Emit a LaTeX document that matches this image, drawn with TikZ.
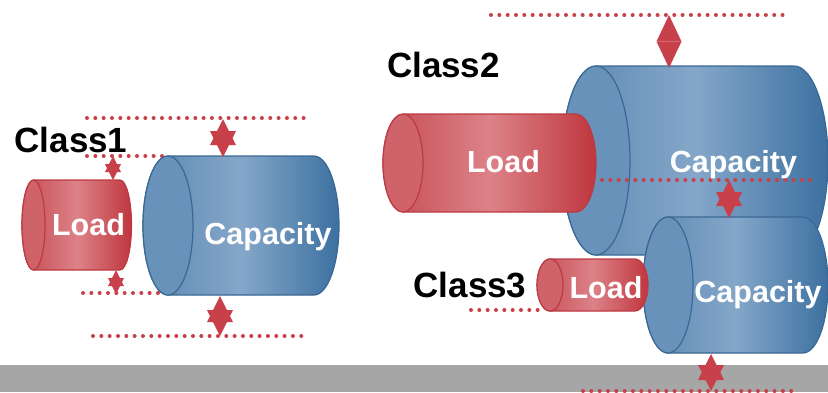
\documentclass[tikz,border=0pt]{standalone}
\usepackage{fontspec}
\setmainfont{Liberation Sans}
\definecolor{loadFace}{RGB}{208,98,106}
\definecolor{loadEdge}{RGB}{188,58,66}
\definecolor{loadLeft}{RGB}{198,74,82}
\definecolor{loadMid}{RGB}{220,130,136}
\definecolor{loadRight}{RGB}{192,54,62}
\definecolor{capFace}{RGB}{104,146,185}
\definecolor{capEdge}{RGB}{58,104,148}
\definecolor{capLeft}{RGB}{92,135,177}
\definecolor{capMid}{RGB}{132,167,201}
\definecolor{capRight}{RGB}{60,112,160}
\definecolor{markred}{RGB}{200,65,74}
\definecolor{floorgrey}{RGB}{166,166,166}

% #1 kind (load/cap), #2 x of front face, #3 x of back end, #4 axis y, #5 x radius, #6 y radius
\newcommand{\drawcyl}[6]{%
  \shadedraw[#1 body] (#2,#4-#6) -- (#3,#4-#6)
    arc[start angle=-90,end angle=90,x radius=#5,y radius=#6]
    -- (#2,#4+#6)
    arc[start angle=90,end angle=270,x radius=#5,y radius=#6] -- cycle;
  \filldraw[#1 face] (#2,#4) ellipse[x radius=#5,y radius=#6];
}

% two triangles between an upper and a lower point: #3 half width, #4 triangle height
\newcommand{\gapmark}[4]{%
  \fill[markred] (#1) -- ++(#3,#4) -- ++(-2*#3,0) -- cycle;
  \fill[markred] (#2) -- ++(#3,-#4) -- ++(-2*#3,0) -- cycle;
}

\begin{document}
\begin{tikzpicture}[x=1pt, y=-1pt,
    load body/.style={left color=loadLeft, right color=loadRight, middle color=loadMid,
                      draw=loadEdge, line width=1.2pt},
    load face/.style={fill=loadFace, draw=loadEdge, line width=1.2pt},
    cap body/.style={left color=capLeft, right color=capRight, middle color=capMid,
                     draw=capEdge, line width=1.2pt},
    cap face/.style={fill=capFace, draw=capEdge, line width=1.2pt},
    classlbl/.style={font=\bfseries\fontsize{35}{35}\selectfont, inner sep=0pt, anchor=base},
    cyltxt/.style={text=white, font=\bfseries\fontsize{30.5}{30.5}\selectfont,
                   inner sep=0pt, anchor=base},
    guide/.style={draw=markred, line width=4pt, line cap=round,
                  dash pattern=on 0pt off 8.33pt}
  ]
    \clip (0,0) rectangle (828,392);
    \fill[floorgrey] (0,365) rectangle (828,392);

    % dotted guide lines
    \foreach \xa/\xb/\y in {87/305/118, 87/163/156, 83/160/293, 93/303/336,
                            491/783/15, 471/538/310, 583/793/391} {
      \draw[guide] (\xa,\y) -- (\xb,\y);
    }

    % class 1
    \drawcyl{load}{33.5}{120}{225}{11.5}{45}
    \drawcyl{cap}{168}{314}{225.5}{25}{69.5}
    \node[classlbl] (class1) at (71,152) {Class1};
    \node[cyltxt] (load1) at (88.5,235) {Load};
    \node[cyltxt] (cap1) at (268,244) {Capacity};

    % class 2
    \drawcyl{cap}{596}{794}{160.5}{34}{94.5}
    \drawcyl{load}{403}{576}{163}{20}{49}
    \draw[guide] (602,180) -- (813,180);
    \node[classlbl] (class2) at (443.5,77) {Class2};
    \node[cyltxt] (load2) at (503.5,172.5) {Load};
    \node[cyltxt] (cap2) at (733.5,172) {Capacity};

    % class 3
    \drawcyl{cap}{668}{803}{285}{25}{68}
    \drawcyl{load}{550}{635}{285}{13}{26}
    \node[classlbl] (class3) at (470,297.5) {Class3};
    \node[cyltxt] (load3) at (606,298.5) {Load};
    \node[cyltxt] (cap3) at (758,302) {Capacity};

    % gap markers
    \coordinate (m1a) at (223,119);  \coordinate (m1b) at (223,157);
    \coordinate (m2a) at (113,156);  \coordinate (m2b) at (113,180);
    \coordinate (m3a) at (116,270);  \coordinate (m3b) at (116,294);
    \coordinate (m4a) at (220,296);  \coordinate (m4b) at (220,336);
    \coordinate (m5a) at (669,15);   \coordinate (m5b) at (669,68);
    \coordinate (m6a) at (729,180);  \coordinate (m6b) at (729,218);
    \coordinate (m7a) at (711,354);  \coordinate (m7b) at (711,391);
    \gapmark{m1a}{m1b}{13}{26}
    \gapmark{m2a}{m2b}{8}{16}
    \gapmark{m3a}{m3b}{8}{16}
    \gapmark{m4a}{m4b}{13}{26}
    \gapmark{m5a}{m5b}{12.5}{26.5}
    \gapmark{m6a}{m6b}{13}{26}
    \gapmark{m7a}{m7b}{13}{26}
\end{tikzpicture}
\end{document}
